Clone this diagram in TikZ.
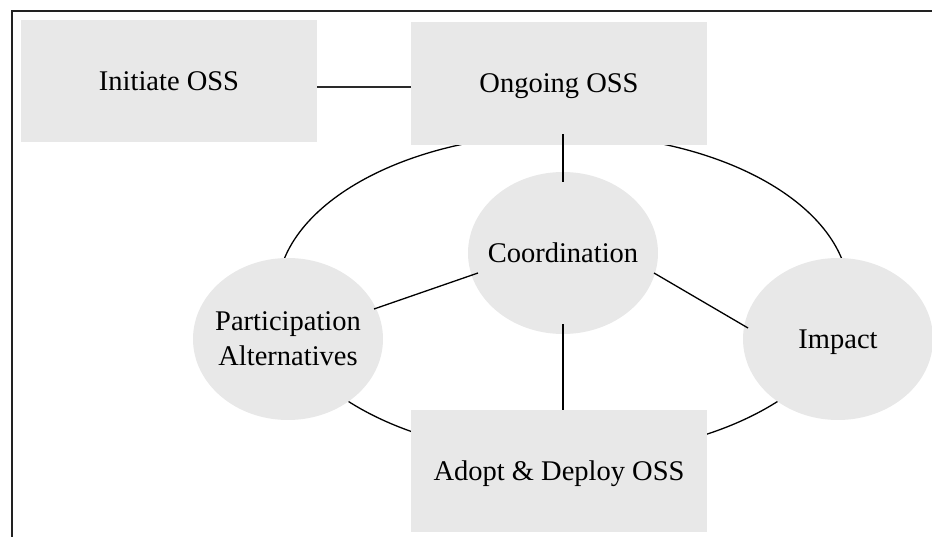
\documentclass[tikz,border=0pt]{standalone}
\usepackage{fontspec}
\setmainfont{Liberation Serif}
\usetikzlibrary{shapes.geometric,calc}
\definecolor{boxgray}{HTML}{E8E8E8}
\definecolor{framegray}{HTML}{222222}
\definecolor{linkgray}{HTML}{2A2A2A}
\newcommand\labelfont{\fontsize{28.5}{35}\selectfont}
\begin{document}
\begin{tikzpicture}[x=1pt,y=-1pt,
  stage/.style={rectangle, fill=boxgray, inner sep=0pt,
    minimum width=296, minimum height=122, font=\labelfont,
    text height=19pt, text depth=0pt},
  bubble/.style={ellipse, fill=boxgray, inner sep=0pt,
    minimum width=190, minimum height=162},
  txt/.style={font=\labelfont, align=center, inner sep=0pt},
  oneline/.style={text height=19pt, text depth=0pt},
  link/.style={line width=1.3pt, black},
  heavylink/.style={line width=2pt, linkgray}]
\useasboundingbox (0,0) rectangle (932,537);

% outer cycle running through the four outer stages
\node[ellipse, draw, line width=1.3pt, inner sep=0pt,
  minimum width=572, minimum height=322] (loop) at (563,295) {};

% stages
\node[stage] (initiate) at (169,81) {Initiate OSS};
\node[stage, minimum height=123] (ongoing) at (559,83.5) {Ongoing OSS};
\node[stage] (adopt) at (559,471) {Adopt \& Deploy OSS};

% activities
\node[bubble, label={[txt,oneline,name=coordtxt]center:Coordination}] (coord) at (563,253) {};
\node[bubble, label={[txt,name=parttxt]center:Participation\\Alternatives}] (part) at (288,339) {};
\node[bubble, label={[txt,oneline,name=impacttxt]center:Impact}] (impact) at (838,339) {};

% connectors
\draw[heavylink] ($(initiate.east)+(0,6)$) -- ($(ongoing.west)+(0,3.5)$);
\draw[link] ($(ongoing.south)+(4,-11)$) -- ($(coord.north)+(0,10)$);
\draw[link] ($(part)+(86,-30)$) -- ($(coord)+(-85,20)$);
\draw[link] ($(coord)+(91,20)$) -- ($(impact)+(-90,-11)$);
\draw[link] ($(coord.south)+(0,-10)$) -- ($(adopt.north)+(4,0)$);

% frame along the top and left edges
\draw[line width=2pt, framegray] (11.5,537) -- (11.5,11) -- (932,11);
\end{tikzpicture}
\end{document}
